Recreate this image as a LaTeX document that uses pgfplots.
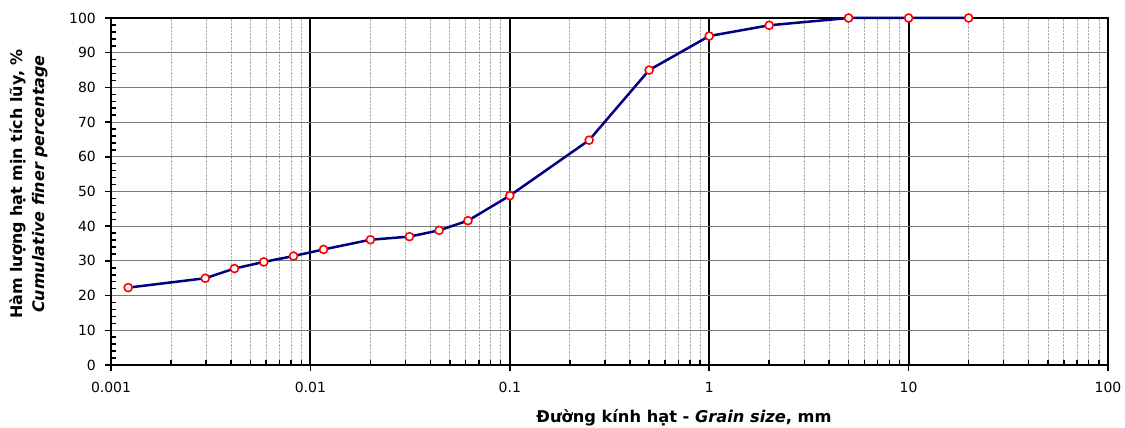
\documentclass[border=0pt]{standalone}
\usepackage{fontspec}
\setmainfont{DejaVu Sans}
\usepackage{pgfplots}
\pgfplotsset{compat=1.18}
\definecolor{navyline}{RGB}{0,0,128}
\definecolor{hgrid}{RGB}{120,120,120}
\definecolor{mgrid}{RGB}{175,175,175}
\begin{document}
\begin{tikzpicture}
\begin{semilogxaxis}[
  scale only axis,
  width=997bp, height=347bp,
  xmin=0.001, xmax=100, ymin=0, ymax=100,
  xtick={0.001,0.01,0.1,1,10,100},
  xticklabels={0.001,0.01,0.1,1,10,100},
  ytick={0,10,...,100},
  minor y tick num=4,
  xtick pos=bottom, ytick pos=left,
  grid=both,
  major x grid style={black, line width=2bp},
  minor x grid style={mgrid, densely dotted, line width=0.7bp},
  major y grid style={hgrid, line width=1bp},
  minor y grid style={draw=none},
  axis line style={black, line width=2.5bp},
  tick style={black, line width=1.5bp},
  tick align=inside,
  minor tick length=5bp,
  major tick length=-6bp,
  ticklabel style={font=\fontsize{14}{16}\selectfont, /pgf/number format/assume math mode=true},
  xticklabel style={anchor=north, inner sep=0pt, yshift=-17bp},
  yticklabel style={anchor=east, inner sep=0pt, xshift=-15bp},
  xlabel={Đường kính hạt - \textit{Grain size}, mm},
  xlabel style={font=\bfseries\fontsize{16.3}{18}\selectfont, at={(rel axis cs:0.5747,0)}, anchor=base, yshift=-57bp},
  ylabel={Hàm lượng hạt mịn tích lũy, \%\\\textit{Cumulative finer percentage}},
  ylabel style={font=\bfseries\fontsize{16}{22}\selectfont, align=center, at={(rel axis cs:0,0.5216)}, anchor=center, yshift=82bp},
  clip=false,
]
\addplot[navyline, line width=2.5bp, mark=*, mark size=4bp,
  mark options={draw=red, fill=white, line width=1.6bp}] coordinates {
(0.00122,22.3)
(0.00297,25.0)
(0.00416,27.8)
(0.00584,29.7)
(0.00823,31.4)
(0.01164,33.3)
(0.0200,36.1)
(0.0314,37.0)
(0.0442,38.8)
(0.0617,41.6)
(0.1,48.8)
(0.25,64.8)
(0.5,85.0)
(1,94.8)
(2,97.9)
(5,100)
(10,100)
(20,100)
};
\end{semilogxaxis}
\pgfresetboundingbox
\path[use as bounding box] (current axis.south west) ++(-111bp,-63bp) rectangle ++(1125bp,428bp);
\end{tikzpicture}
\end{document}
